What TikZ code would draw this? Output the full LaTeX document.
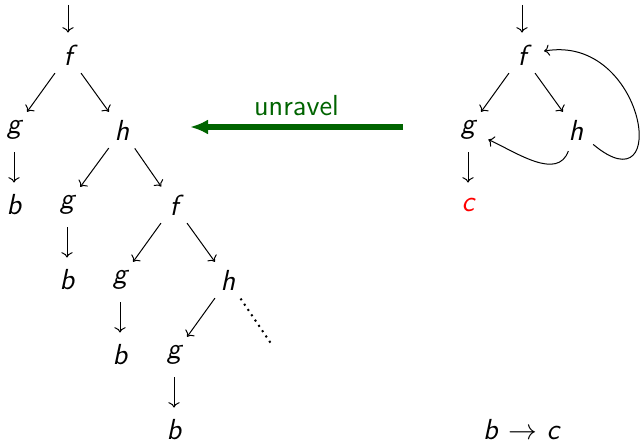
\documentclass[tikz,border=0pt]{standalone}
\usepackage{tikz}
\usetikzlibrary{arrows.meta}

\definecolor{unravelgreen}{RGB}{0,100,0}

\begin{document}
\begin{tikzpicture}[
    x=0.5pt, y=-0.5pt,
    font=\fontsize{14.5}{17}\selectfont\sffamily,
    sym/.style={circle, inner sep=0pt, minimum size=22pt, font=\fontsize{14.5}{17}\selectfont\sffamily\itshape},
    edge/.style={->, line width=0.5pt},
    unravelarrow/.style={-{Latex[length=9pt, width=7.5pt]}, line width=3pt, draw=unravelgreen}
]
\useasboundingbox (0,0) rectangle (642,443);

% Left: unravelled tree
\coordinate (inL) at (68,5);
\node[sym] (f1) at (68,55) {f};
\node[sym] (g1) at (14,130) {g};
\node[sym] (h1) at (122,130) {h};
\node[sym] (b1) at (14,205) {b};
\node[sym] (g2) at (67,205) {g};
\node[sym] (f2) at (174,205) {f};
\node[sym] (b2) at (67,280) {b};
\node[sym] (g3) at (120,280) {g};
\node[sym] (h2) at (228,280) {h};
\node[sym] (b3) at (120,355) {b};
\node[sym] (g4) at (174,355) {g};
\node[sym] (b4) at (174,430) {b};
\coordinate (more) at (272,345);

\draw[edge] (inL) -- (f1);
\draw[edge] (f1) -- (g1);
\draw[edge] (f1) -- (h1);
\draw[edge] (g1) -- (b1);
\draw[edge] (h1) -- (g2);
\draw[edge] (h1) -- (f2);
\draw[edge] (g2) -- (b2);
\draw[edge] (f2) -- (g3);
\draw[edge] (f2) -- (h2);
\draw[edge] (g3) -- (b3);
\draw[edge] (h2) -- (g4);
\draw[edge] (g4) -- (b4);
\draw[line width=1pt, dash pattern=on 1pt off 2.2pt] (h2) -- (more);

% Middle: unravel arrow
\coordinate (arrR) at (403,127);
\coordinate (arrL) at (190,127);
\draw[unravelarrow] (arrR) -- node[above=1pt, text=unravelgreen] (lbl) {unravel} (arrL);

% Right: cyclic graph
\coordinate (inR) at (522,5);
\node[sym] (f) at (522,55) {f};
\node[sym] (g) at (468,130) {g};
\node[sym] (h) at (576,130) {h};
\node[sym, text=red] (c) at (468,205) {c};

\draw[edge] (inR) -- (f);
\draw[edge] (f) -- (g);
\draw[edge] (f) -- (h);
\draw[edge] (g) -- (c);
\draw[edge] (h) to[out=-110, in=-25] (g);
\draw[edge] (h) to[out=-40, in=10, looseness=2.5] (f);

\node (rule) at (522,430) {\textit{b} $\to$ \textit{c}};

\end{tikzpicture}
\end{document}
